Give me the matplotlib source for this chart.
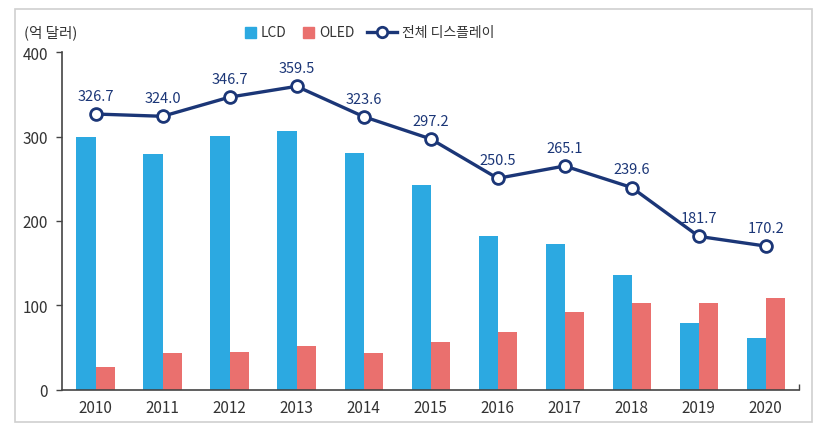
import numpy as np
import matplotlib.pyplot as plt
from matplotlib.lines import Line2D
from matplotlib.patches import Rectangle

plt.rcParams['font.family'] = ['Noto Sans CJK KR', 'DejaVu Sans']

# data (억 달러)
years = ['2010', '2011', '2012', '2013', '2014', '2015', '2016', '2017', '2018', '2019', '2020']
lcd = [300, 279, 301, 307, 281, 242, 182, 173, 136, 79, 61]
oled = [27, 44, 45, 52, 43, 56, 68, 92, 103, 103, 109]
total = [326.7, 324.0, 346.7, 359.5, 323.6, 297.2, 250.5, 265.1, 239.6, 181.7, 170.2]

blue = '#2CA9E1'
red = '#EA706E'
navy = '#1B3677'
grey = '#333333'

W, H = 828, 435
fig = plt.figure(figsize=(W / 100, H / 100), dpi=100)
ax = fig.add_axes([0.0749, 0.1018, 0.8904, 0.776])


# pixel (from top-left) -> figure fraction
def fx(px):
    return px / W


def fy(py):
    return (H - py) / H


# outer frame
fig.patches.append(Rectangle((0.018, 0.028), 0.963, 0.948, transform=fig.transFigure,
                             fill=False, edgecolor='#cfcfcf', linewidth=1.2))

x = np.arange(len(years))
w = 0.285
ax.bar(x - w / 2, lcd, width=w, color=blue, zorder=2)
ax.bar(x + w / 2, oled, width=w, color=red, zorder=2)
ax.plot(x, total, color=navy, linewidth=2.4, marker='o', markersize=8.5,
        markerfacecolor='white', markeredgecolor=navy, markeredgewidth=2, zorder=3)

for xi, v in zip(x, total):
    ax.annotate(f'{v:.1f}', (xi, v), xytext=(0, 8), textcoords='offset points',
                ha='center', va='bottom', fontsize=10.5, color=navy)

ax.set_xlim(-0.5, 10.5)
ax.set_ylim(0, 400)
ax.set_xticks(x)
ax.set_xticklabels(years)
ax.set_yticks([0, 100, 200, 300, 400])
ax.set_xticks([10.5], minor=True)
ax.tick_params(axis='x', which='major', length=0, pad=7, labelsize=11, labelcolor=grey)
ax.tick_params(axis='x', which='minor', direction='in', length=4, width=1, color='#444444')
ax.tick_params(axis='y', length=4, width=1, color='#444444', pad=6, labelsize=11, labelcolor=grey)

for s in ['top', 'right']:
    ax.spines[s].set_visible(False)
for s in ['left', 'bottom']:
    ax.spines[s].set_color('#444444')
    ax.spines[s].set_linewidth(1.2)

fig.text(fx(24), fy(33), '(억 달러)', fontsize=10.5, color=grey, ha='left', va='center')

# legend, drawn by hand to get the spacing of the original
ly = 33
for x0, col, label in [(245, blue, 'LCD'), (303, red, 'OLED')]:
    fig.patches.append(Rectangle((fx(x0), fy(ly + 5.5)), fx(11), 11 / H,
                                 transform=fig.transFigure, color=col))
    fig.text(fx(x0 + 16), fy(ly), label, fontsize=10, color=grey, ha='left', va='center')
fig.lines.append(Line2D([fx(367), fx(397)], [fy(ly), fy(ly)], transform=fig.transFigure,
                        color=navy, linewidth=2.4))
fig.lines.append(Line2D([fx(382)], [fy(ly)], transform=fig.transFigure, marker='o',
                        markersize=7.5, markerfacecolor='white', markeredgecolor=navy,
                        markeredgewidth=2))
fig.text(fx(402), fy(ly), '전체 디스플레이', fontsize=10, color=grey, ha='left', va='center')

fig.savefig('out.png', dpi=100)
